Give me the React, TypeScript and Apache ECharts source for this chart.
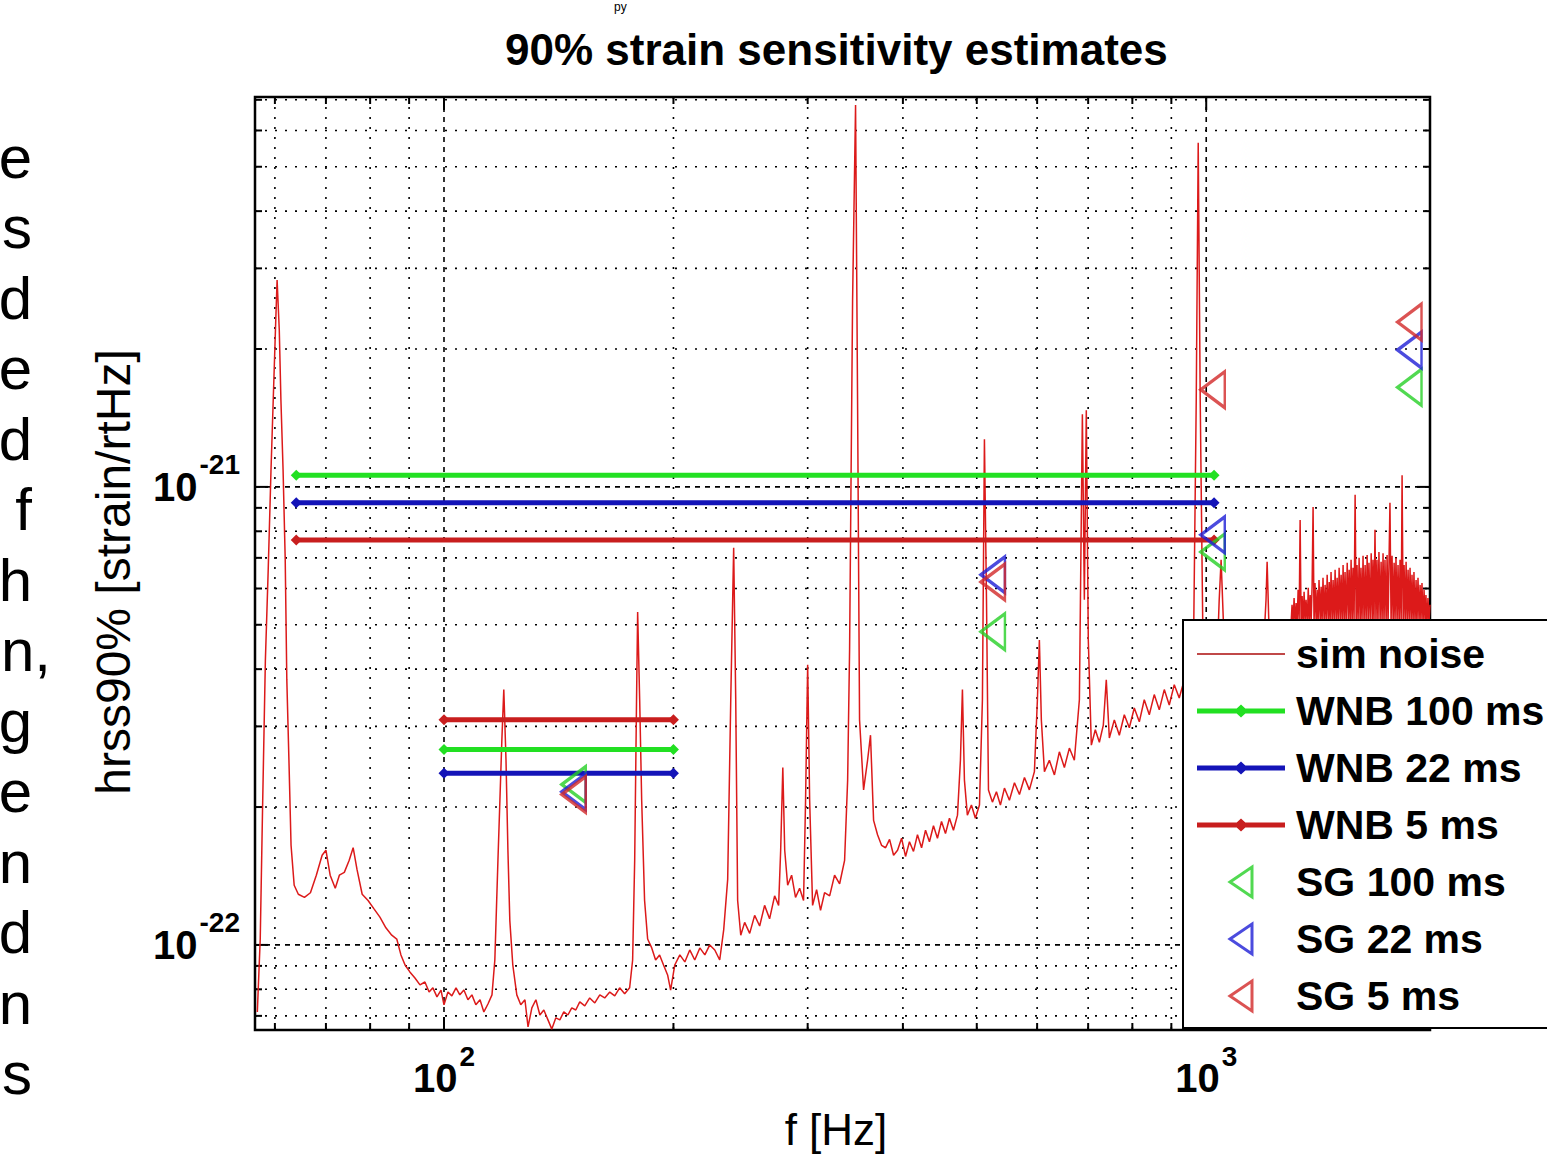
import React, { useEffect, useRef } from 'react';
import * as echarts from 'echarts';

const FONT = "'Liberation Sans', Arial, Helvetica, sans-serif";

// Axis ranges (strain in units of 1e-22 /rtHz)
const X_MIN = 56.5;
const X_MAX = 1966;
const Y_MIN = 0.652;
const Y_MAX = 71.0;

const xGridFreqs = [60, 70, 80, 90, 100, 200, 300, 400, 500, 600, 700, 800, 900, 1000];
const yGridValues = [0.7, 0.8, 0.9, 1, 2, 3, 4, 5, 6, 7, 8, 9, 10, 20, 30, 40, 50, 60, 70];

// sim noise spectrum: [f (Hz), hrss90% (1e-22 strain/rtHz)]
const noiseLow: [number, number][] = [
  [56.9, 0.714], [57.4, 1.03], [57.8, 1.97], [58.3, 4.19], [58.8, 6.59], [59.3, 10.9], [59.7, 15.5], [60.1, 22.0],
  [60.4, 28.3], [60.8, 22.0], [61.1, 15.5], [61.5, 10.9], [61.9, 6.93], [62.2, 3.79], [62.6, 2.53], [63.0, 1.65],
  [63.6, 1.35], [64.4, 1.29], [65.6, 1.27], [66.8, 1.30], [68.0, 1.42], [69.2, 1.57], [70.0, 1.61], [70.9, 1.42],
  [72.0, 1.33], [72.9, 1.42], [74.0, 1.44], [75.1, 1.53], [76.0, 1.63], [76.9, 1.46], [78.1, 1.29], [79.5, 1.25],
  [80.9, 1.20], [82.4, 1.15], [83.9, 1.09], [85.4, 1.05], [86.7, 1.03], [87.8, 0.951], [88.9, 0.904], [90.2, 0.873],
  [91.6, 0.847], [93.0, 0.818], [94.4, 0.830], [95.6, 0.789], [96.7, 0.806], [97.9, 0.770], [99.1, 0.797], [100, 0.740],
  [101.2, 0.789], [102.4, 0.774], [103.7, 0.806], [104.9, 0.778], [106.2, 0.797], [107.5, 0.759], [108.8, 0.778],
  [110.1, 0.740], [111.5, 0.759], [112.8, 0.714], [114.2, 0.743], [115.6, 0.778], [116.6, 0.927], [117.7, 1.53],
  [118.4, 2.07], [119.1, 2.80], [119.8, 3.61], [120.6, 2.53], [121.3, 1.61], [122.0, 1.13], [123.1, 0.904],
  [124.6, 0.778], [126.1, 0.740], [127.7, 0.759], [128.9, 0.662], [130.4, 0.729], [132.0, 0.759], [133.6, 0.703],
  [135.2, 0.721], [136.9, 0.686], [138.5, 0.655], [140.2, 0.693], [141.9, 0.686], [143.6, 0.714], [145.4, 0.703],
  [147.1, 0.729], [148.9, 0.721], [150.7, 0.751], [153.0, 0.736], [155.3, 0.766], [157.7, 0.747], [160.1, 0.778],
  [162.5, 0.766], [165.0, 0.789], [167.5, 0.774], [170.0, 0.806], [172.6, 0.782], [175.2, 0.806], [176.8, 0.927],
  [177.9, 1.53], [178.9, 3.43], [179.5, 5.33], [180.6, 3.43], [181.7, 2.07], [183.3, 1.25], [185.0, 1.03],
  [187.3, 0.985], [189.5, 0.927], [191.8, 0.951], [194.1, 0.904], [196.5, 0.860], [198.3, 0.797],
];

const noiseMid: [number, number][] = [
  [200.8, 0.904], [203.9, 0.951], [207.0, 0.918], [210.1, 0.975], [213.3, 0.927], [216.6, 0.985], [219.9, 0.951],
  [223.2, 1.00], [226.6, 0.975], [230.0, 0.927], [232.8, 1.08], [235.6, 1.39], [237.8, 3.43], [239.9, 7.36],
  [241.4, 3.43], [242.8, 1.25], [245.1, 1.05], [248.0, 1.12], [251.8, 1.06], [255.6, 1.16], [259.5, 1.10],
  [263.4, 1.22], [267.4, 1.14], [271.5, 1.28], [274.8, 1.22], [276.5, 1.61], [278.3, 2.44], [279.9, 1.61],
  [282.4, 1.35], [285.8, 1.42], [289.2, 1.27], [292.8, 1.33], [296.3, 1.25], [298.1, 2.07], [300.0, 4.09],
  [301.8, 2.07], [304.5, 1.22], [308.2, 1.32], [311.9, 1.19], [315.7, 1.30], [320.6, 1.28], [325.4, 1.42],
  [330.4, 1.36], [335.4, 1.53], [338.5, 2.29], [340.5, 4.41], [343.6, 25.6], [346.7, 68.2], [348.8, 15.5],
  [350.9, 3.10], [355.2, 2.18], [359.5, 2.53], [362.7, 2.87], [366.1, 1.87], [370.5, 1.74], [375.0, 1.65],
  [379.6, 1.63], [384.2, 1.70], [388.9, 1.57], [393.6, 1.61],
];

const noiseHigh: [number, number][] = [
  [398.4, 1.71], [403.2, 1.56], [408.0, 1.68], [413.0, 1.60], [418.0, 1.74], [423.2, 1.63], [428.3, 1.78],
  [433.4, 1.68], [438.7, 1.82], [444.0, 1.71], [449.5, 1.86], [454.9, 1.75], [460.4, 1.89], [466.0, 1.78],
  [471.7, 1.92], [475.9, 2.53], [478.8, 3.61], [481.7, 2.29], [486.0, 1.92], [492.0, 2.02], [497.9, 1.89],
  [504.1, 2.02], [508.6, 3.43], [511.7, 12.7], [514.9, 5.67], [518.0, 2.18], [524.2, 2.05], [530.6, 2.16],
  [537.0, 2.02], [543.6, 2.20], [551.8, 2.07], [560.3, 2.26], [568.8, 2.13], [577.5, 2.32], [586.1, 2.18],
  [595.1, 2.39], [600.5, 3.43], [604.1, 4.63], [607.7, 3.10], [613.4, 2.39], [622.6, 2.53], [632.2, 2.35],
  [641.7, 2.64], [651.5, 2.44], [661.4, 2.69], [671.4, 2.53], [681.7, 3.43], [687.9, 14.4], [692.0, 5.67],
  [696.1, 14.7], [700.3, 4.63], [706.8, 2.73], [715.3, 2.95], [724.1, 2.77], [732.8, 3.02], [739.4, 3.79],
  [746.3, 2.83], [757.6, 3.10], [769.1, 2.87], [780.8, 3.18], [792.7, 2.98], [804.7, 3.29], [817.0, 3.07],
  [829.3, 3.43], [842.0, 3.18], [854.7, 3.52], [867.8, 3.26], [881.0, 3.61], [894.3, 3.34], [908.0, 3.70],
  [921.7, 3.46],
];

const noiseKHz: [number, number][] = [
  [935.8, 3.79], [950.0, 3.61], [961.6, 3.98], [970.3, 15.5], [976.1, 56.4], [982.0, 15.5], [991.1, 3.98],
  [1003, 4.19], [1018, 4.02], [1034, 4.30], [1040, 5.67], [1046, 6.93], [1053, 5.12], [1065, 4.23], [1088, 4.52],
  [1112, 4.30], [1139, 4.59], [1167, 4.41], [1191, 4.68], [1198, 5.67], [1202, 6.86], [1209, 4.87], [1228, 4.63],
  [1246, 4.92], [1265, 4.75], [1285, 5.12],
];

// dense noise band above ~1.3 kHz
const noiseBand: [number, number][] = [
  [1292, 5.00], [1296, 5.53], [1300, 5.05], [1304, 5.72], [1308, 4.98], [1312, 5.58], [1316, 5.05], [1320, 5.96],
  [1324, 5.10], [1328, 8.47], [1332, 5.02], [1336, 5.78], [1340, 5.00], [1344, 5.90], [1348, 5.08], [1352, 5.67],
  [1357, 5.00], [1361, 6.02], [1365, 5.05], [1369, 5.81], [1373, 5.10], [1377, 6.11], [1381, 9.04], [1385, 5.02],
  [1389, 6.17], [1394, 5.05], [1398, 5.96], [1402, 5.00], [1406, 6.26], [1411, 5.10], [1415, 6.05], [1419, 5.02],
  [1423, 6.33], [1428, 5.05], [1432, 6.11], [1437, 5.00], [1441, 6.43], [1446, 5.10], [1450, 6.20], [1454, 5.05],
  [1458, 6.52], [1463, 5.00], [1467, 6.26], [1472, 5.08], [1476, 6.59], [1481, 5.02], [1485, 6.33], [1490, 5.05],
  [1494, 6.66], [1499, 5.10], [1503, 6.43], [1508, 5.00], [1512, 6.75], [1517, 5.05], [1521, 6.52], [1526, 5.02],
  [1531, 6.83], [1536, 5.08], [1540, 6.59], [1545, 5.00], [1549, 6.93], [1554, 5.05], [1558, 6.66], [1563, 5.10],
  [1568, 9.61], [1573, 5.02], [1577, 6.75], [1582, 5.05], [1587, 7.00], [1592, 5.00], [1596, 6.66], [1601, 5.08],
  [1606, 7.07], [1611, 5.02], [1616, 6.75], [1621, 5.05], [1626, 7.10], [1631, 5.00], [1635, 6.83], [1641, 5.10],
  [1646, 7.16], [1651, 5.05], [1655, 6.93], [1660, 5.02], [1665, 8.06], [1670, 5.05], [1675, 6.93], [1680, 5.00],
  [1685, 7.21], [1691, 5.08], [1696, 6.86], [1701, 5.05], [1706, 7.16], [1711, 5.02], [1716, 6.93], [1722, 5.05],
  [1727, 7.10], [1732, 5.00], [1737, 6.83], [1742, 9.23], [1748, 5.05], [1753, 7.07], [1759, 5.02], [1764, 6.83],
  [1769, 5.08], [1774, 7.00], [1780, 5.05], [1785, 6.75], [1791, 5.00], [1796, 6.93], [1802, 5.05], [1807, 10.6],
  [1813, 5.02], [1818, 6.75], [1824, 5.05], [1829, 6.86], [1835, 5.00], [1840, 6.59], [1846, 5.08], [1851, 6.66],
  [1857, 5.05], [1862, 6.43], [1868, 5.02], [1873, 6.52], [1879, 5.05], [1885, 6.26], [1890, 5.00], [1896, 6.33],
  [1902, 5.08], [1908, 6.11], [1913, 5.05], [1919, 6.17], [1925, 5.02], [1931, 5.96], [1937, 5.05], [1942, 5.81],
  [1948, 5.00], [1954, 5.72], [1960, 5.05], [1966, 5.53],
];

// WNB bands: frequency ranges (Hz) and levels (1e-22) for [long band, short band]
const wnbLongBand = [64, 1024];
const wnbShortBand = [100, 200];
const wnb100 = [10.6, 2.67];
const wnb22 = [9.23, 2.37];
const wnb5 = [7.66, 3.10];

// Sine-Gaussian points
const sgFreqs = [148, 525, 1020, 1848];
const sg100 = [2.24, 4.83, 7.21, 16.5];
const sg22 = [2.16, 6.43, 7.86, 19.9];
const sg5 = [2.13, 6.2, 16.3, 22.9];

// cropped slide text on the left edge
const sideLetters = ['e', 's', 'd', 'e', 'd', 'f', 'h', 'n,', 'g', 'e', 'n', 'd', 'n', 's'];

const C_NOISE = '#dc1a1a';
const C_G = '#22e022';
const C_B = '#1414b8';
const C_R = '#c81e1e';
const C_SG_G = '#26d026';
const C_SG_B = '#1e1ed6';
const C_SG_R = '#d22828';

const isPow10 = (v: number) => {
  const l = Math.log10(v);
  return Math.abs(l - Math.round(l)) < 1e-6;
};

const supFormatter = (offset: number) => (v: number) => {
  if (!isPow10(v)) return '';
  const e = Math.round(Math.log10(v)) + offset;
  return `{b|10}{s|${e}}`;
};

const labelRich = {
  b: { fontSize: 40, fontWeight: 'bold', fontFamily: FONT, color: '#000' },
  s: { fontSize: 28, fontWeight: 'bold', fontFamily: FONT, color: '#000', padding: [0, 0, 44, 2] },
};

const WNB_ICON = 'path://M0,4L88,4L88,9L0,9Z M44,0L51,6.5L44,13L37,6.5Z';
const SG_ICON = 'path://M0,15L22,0L22,30Z';

export default function App() {
  const ref = useRef<HTMLDivElement>(null);

  useEffect(() => {
    if (!ref.current) return;
    const chart = echarts.init(ref.current, null, { renderer: 'svg' });

    const gridLineX = (params: any, api: any) => {
      const cs = params.coordSys;
      const p = api.coord([api.value(0), api.value(1)]);
      const major = isPow10(api.value(0));
      const len = major ? 13 : 7;
      const bottom = cs.y + cs.height;
      return {
        type: 'group',
        children: [
          { type: 'line', shape: { x1: p[0], y1: cs.y, x2: p[0], y2: bottom },
            style: { stroke: '#000', lineWidth: 1.6, lineDash: major ? [5, 5] : [2, 8] } },
          { type: 'line', shape: { x1: p[0], y1: bottom, x2: p[0], y2: bottom - len }, style: { stroke: '#000', lineWidth: 2 } },
          { type: 'line', shape: { x1: p[0], y1: cs.y, x2: p[0], y2: cs.y + len }, style: { stroke: '#000', lineWidth: 2 } },
        ],
      };
    };
    const gridLineY = (params: any, api: any) => {
      const cs = params.coordSys;
      const p = api.coord([api.value(0), api.value(1)]);
      const major = isPow10(api.value(1));
      const len = major ? 13 : 7;
      const right = cs.x + cs.width;
      return {
        type: 'group',
        children: [
          { type: 'line', shape: { x1: cs.x, y1: p[1], x2: right, y2: p[1] },
            style: { stroke: '#000', lineWidth: 1.6, lineDash: major ? [5, 5] : [2, 8] } },
          { type: 'line', shape: { x1: cs.x, y1: p[1], x2: cs.x + len, y2: p[1] }, style: { stroke: '#000', lineWidth: 2 } },
          { type: 'line', shape: { x1: right, y1: p[1], x2: right - len, y2: p[1] }, style: { stroke: '#000', lineWidth: 2 } },
        ],
      };
    };

    const wnbSeries = (name: string, color: string, vals: number[]) => {
      const base = {
        type: 'line', name, color, symbol: 'diamond', symbolSize: 11, showSymbol: true,
        lineStyle: { width: 5, color }, itemStyle: { color }, z: 4, silent: true,
      };
      return [
        { ...base, data: wnbLongBand.map((f) => [f, vals[0]]) },
        { ...base, data: wnbShortBand.map((f) => [f, vals[1]]) },
      ];
    };
    const sgSeries = (name: string, color: string, vals: number[]) => ({
      type: 'scatter', name, symbol: 'triangle', symbolRotate: 90, symbolSize: [36, 24],
      itemStyle: { color: 'rgba(0,0,0,0)', borderColor: color, borderWidth: 3 }, z: 5, silent: true,
      data: sgFreqs.map((f, i) => [f, vals[i]]),
    });

    const option: any = {
      animation: false,
      backgroundColor: '#fff',
      title: {
        text: '90% strain sensitivity estimates',
        left: 500, top: 22,
        textStyle: { fontSize: 44, fontWeight: 'bold', fontFamily: FONT, color: '#000' },
      },
      grid: {
        left: 255, top: 97, right: 117, bottom: 127,
        containLabel: false, outerBoundsMode: 'none',
        show: true, backgroundColor: '#fff', borderColor: '#000', borderWidth: 2.5,
      },
      xAxis: {
        type: 'log', logBase: 10, min: X_MIN, max: X_MAX,
        axisLine: { show: false }, axisTick: { show: false }, splitLine: { show: false },
        axisLabel: { formatter: supFormatter(0), rich: labelRich, margin: 12, color: '#000' },
        name: 'f [Hz]', nameLocation: 'middle', nameGap: 77,
        nameTextStyle: { fontSize: 44, fontFamily: FONT, color: '#000', padding: [0, 13, 0, 0] },
      },
      yAxis: {
        type: 'log', logBase: 10, min: Y_MIN, max: Y_MAX,
        axisLine: { show: false }, axisTick: { show: false }, splitLine: { show: false },
        axisLabel: { formatter: supFormatter(-22), rich: labelRich, margin: 15, color: '#000' },
        name: 'hrss90% [strain/rtHz]', nameLocation: 'middle', nameGap: 118,
        nameTextStyle: { fontSize: 48, fontFamily: FONT, color: '#000', padding: [0, 17, 0, 0] },
      },
      legend: {
        orient: 'vertical', left: 1183, top: 620,
        padding: [12, 130, 10, 14],
        itemWidth: 88, itemHeight: 30, itemGap: 13,
        backgroundColor: '#fff', borderColor: '#000', borderWidth: 2,
        selectedMode: false,
        textStyle: { fontSize: 41, fontWeight: 'bold', fontFamily: FONT, color: '#000', lineHeight: 44, padding: [0, 0, 0, 6] },
        data: [
          { name: 'sim noise', icon: 'path://M0,0L88,0L88,2L0,2Z', itemStyle: { color: '#c04848', borderWidth: 0 } },
          { name: 'WNB 100 ms', icon: WNB_ICON, itemStyle: { color: C_G, borderWidth: 0 } },
          { name: 'WNB 22 ms', icon: WNB_ICON, itemStyle: { color: C_B, borderWidth: 0 } },
          { name: 'WNB 5 ms', icon: WNB_ICON, itemStyle: { color: C_R, borderWidth: 0 } },
          { name: 'SG 100 ms', icon: SG_ICON, itemStyle: { color: 'rgba(0,0,0,0)', borderColor: C_SG_G, borderWidth: 3 } },
          { name: 'SG 22 ms', icon: SG_ICON, itemStyle: { color: 'rgba(0,0,0,0)', borderColor: C_SG_B, borderWidth: 3 } },
          { name: 'SG 5 ms', icon: SG_ICON, itemStyle: { color: 'rgba(0,0,0,0)', borderColor: C_SG_R, borderWidth: 3 } },
        ],
      },
      graphic: [
        ...sideLetters.map((t, i) => ({
          type: 'text', x: t === 'n,' ? 1 : 32, y: 157 + i * 70.5, silent: true,
          style: {
            text: t, fontSize: 60, fontFamily: FONT, fill: '#000',
            textAlign: t === 'n,' ? 'left' : 'right', textVerticalAlign: 'middle',
          },
        })),
        {
          type: 'text', x: 614, y: 7, silent: true,
          style: { text: 'py', fontSize: 12, fontFamily: FONT, fill: '#000', textAlign: 'left', textVerticalAlign: 'middle' },
        },
      ],
      series: [
        {
          type: 'custom', name: 'xgrid', silent: true, z: 1,
          data: xGridFreqs.map((f) => [f, Y_MIN]), renderItem: gridLineX,
        },
        {
          type: 'custom', name: 'ygrid', silent: true, z: 1,
          data: yGridValues.map((h) => [X_MIN, h]), renderItem: gridLineY,
        },
        {
          type: 'line', name: 'sim noise', color: C_NOISE, showSymbol: false, symbol: 'none', z: 3, silent: true,
          lineStyle: { width: 1.5, color: C_NOISE },
          data: [...noiseLow, ...noiseMid, ...noiseHigh, ...noiseKHz, ...noiseBand],
        },
        ...wnbSeries('WNB 100 ms', C_G, wnb100),
        ...wnbSeries('WNB 22 ms', C_B, wnb22),
        ...wnbSeries('WNB 5 ms', C_R, wnb5),
        sgSeries('SG 100 ms', C_SG_G, sg100),
        sgSeries('SG 22 ms', C_SG_B, sg22),
        sgSeries('SG 5 ms', C_SG_R, sg5),
      ],
    };

    chart.setOption(option);
    return () => chart.dispose();
  }, []);

  return (
    <div
      ref={ref}
      style={{ position: 'fixed', left: 0, top: 0, width: 1547, height: 1157, background: '#fff' }}
    />
  );
}
